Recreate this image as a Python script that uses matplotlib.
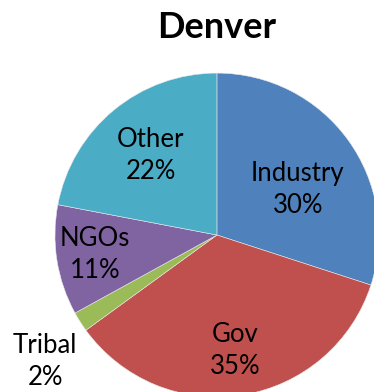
import matplotlib.pyplot as plt

# funding share by sector
sectors = ['Industry', 'Gov', 'Tribal', 'NGOs', 'Other']
shares = [30, 35, 2, 11, 22]
colors = ['#4F81BD', '#C0504D', '#9BBB59', '#8064A2', '#4BACC6']
# label anchor for each slice, in units of the pie radius
label_x = [0.50, 0.113, -1.06, -0.751, -0.408]
label_y = [0.284, -0.711, -0.78, -0.119, 0.493]

plt.rcParams['font.family'] = ['Lato', 'DejaVu Sans']

fig = plt.figure(figsize=(3.74, 3.92), dpi=100)
fig.text(0.58, 0.93, 'Denver', ha='center', va='center',
         fontsize=26, fontweight='bold')

ax = fig.add_axes([0.147, -0.0128, 0.866, 0.8265])
wedges, _ = ax.pie(shares, colors=colors, startangle=90, counterclock=False,
                   wedgeprops=dict(linewidth=0.4, edgecolor='#e8e8e8'))
ax.set_xlim(-1, 1)
ax.set_ylim(-1, 1)
ax.set_aspect('equal')
ax.axis('off')

for name, val, x, y in zip(sectors, shares, label_x, label_y):
    ax.text(x, y, '%s\n%d%%' % (name, val),
            ha='center', va='center', fontsize=18.5, linespacing=1.35,
            clip_on=False)

fig.savefig('out.png', dpi=100)
